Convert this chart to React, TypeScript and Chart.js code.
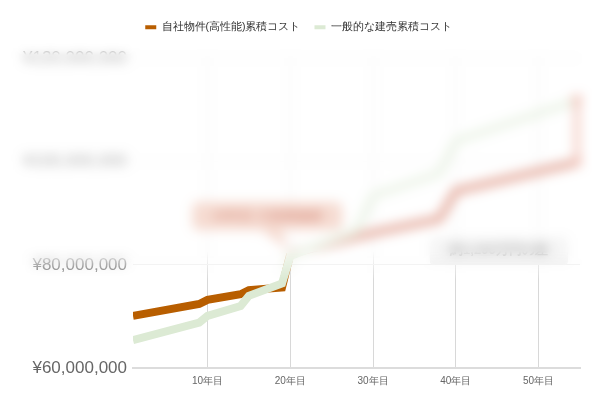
import { useEffect, useRef } from "react";
import { Chart, registerables } from "chart.js";
import type { Plugin } from "chart.js";

Chart.register(...registerables);

// 自社物件(高性能) — years and cumulative cost (yen)
const ownYears = [1, 9, 10, 14, 15, 19, 20, 30, 38, 40, 55];
const ownCost = [
  70_100_000, 72_400_000, 73_200_000, 74_300_000, 75_100_000, 75_600_000,
  82_100_000, 86_200_000, 88_900_000, 94_300_000, 100_000_000,
];

// 一般的な建売
const tractYears = [1, 9, 10, 14, 15, 19, 20, 28, 30, 38, 40, 55];
const tractCost = [
  65_400_000, 68_800_000, 70_100_000, 72_000_000, 74_000_000, 76_400_000,
  81_700_000, 86_600_000, 93_400_000, 97_700_000, 104_000_000, 112_000_000,
];

const xTicks = [10, 20, 30, 40, 50];
const yTicks = [60_000_000, 80_000_000, 100_000_000, 120_000_000];

const ownLabel = "自社物件(高性能)累積コスト";
const tractLabel = "一般的な建売累積コスト";
const calloutText = "20年目 大規模修繕";
const gapText = "約1,200万円の差";

const BROWN = "#B85E00";
const BROWN_LATER = "rgb(208,108,84)";
const GREEN = "#DCEAD4";

// extra room between the legend and the plot
const legendGap: Plugin = {
  id: "legendGap",
  beforeInit(chart) {
    const legend: any = (chart as any).legend;
    if (!legend) return;
    const fit = legend.fit;
    legend.fit = function () {
      fit.call(this);
      this.height += 16;
    };
  },
};

const annotationPlugin: Plugin = {
  id: "annotations",
  afterDatasetsDraw(chart) {
    const { ctx, scales } = chart;
    const px = (v: number) => scales.x.getPixelForValue(v);
    const py = (v: number) => scales.y.getPixelForValue(v);
    ctx.save();

    // callout pointing at the year-20 jump
    const i20 = ownYears.indexOf(20);
    const tipX = px(20);
    const tipY = py(ownCost[i20]);
    const cx = tipX - 23;
    const cy = tipY - 38;
    const w = 150;
    const h = 28;
    ctx.fillStyle = "rgb(238,190,172)";
    ctx.beginPath();
    ctx.moveTo(cx - 6, cy + h / 2);
    ctx.lineTo(cx + 14, cy + h / 2);
    ctx.lineTo(tipX - 2, tipY - 4);
    ctx.closePath();
    ctx.fill();
    ctx.beginPath();
    ctx.roundRect(cx - w / 2, cy - h / 2, w, h, 6);
    ctx.fill();
    ctx.fillStyle = "rgb(196,84,56)";
    ctx.font = "bold 13px sans-serif";
    ctx.textAlign = "center";
    ctx.textBaseline = "middle";
    ctx.fillText(calloutText, cx, cy);

    // gap label
    const gx = px(45.2);
    const gy = py(82_700_000);
    ctx.fillStyle = "rgb(236,236,236)";
    ctx.beginPath();
    ctx.roundRect(gx - 69, gy - 14, 138, 28, 4);
    ctx.fill();
    ctx.fillStyle = "rgb(120,120,120)";
    ctx.fillText(gapText, gx, gy);

    // difference bracket at the last year
    const lx = px(ownYears[ownYears.length - 1]) - 3;
    const y1 = py(ownCost[ownCost.length - 1]);
    const y2 = py(tractCost[tractCost.length - 1]);
    ctx.strokeStyle = "rgb(228,140,120)";
    ctx.fillStyle = "rgb(228,140,120)";
    ctx.lineWidth = 5;
    ctx.beginPath();
    ctx.moveTo(lx, y1);
    ctx.lineTo(lx, y2);
    ctx.stroke();
    for (const yy of [y1, y2]) {
      ctx.beginPath();
      ctx.arc(lx, yy, 5, 0, Math.PI * 2);
      ctx.fill();
    }
    ctx.restore();
  },
};

// the upper part of the chart is blurred and washed out
const blurPlugin: Plugin = {
  id: "blurTop",
  afterDraw(chart) {
    const { canvas, ctx, chartArea, scales } = chart;
    const dpr = chart.currentDevicePixelRatio;
    const w = canvas.width;
    const h = canvas.height;
    const top = (chartArea.top - 18) * dpr;
    const bottom = (scales.y.getPixelForValue(80_000_000) + 15) * dpr;

    const src = document.createElement("canvas");
    src.width = w;
    src.height = h;
    const s = src.getContext("2d")!;
    s.fillStyle = "#fff";
    s.fillRect(0, 0, w, h);
    s.drawImage(canvas, 0, 0);

    const out = document.createElement("canvas");
    out.width = w;
    out.height = h;
    const o = out.getContext("2d")!;
    o.fillStyle = "#fff";
    o.fillRect(0, 0, w, h);
    o.filter = `blur(${6 * dpr}px)`;
    o.drawImage(src, 0, 0);
    o.filter = "none";
    o.fillStyle = "rgba(255,255,255,0.45)";
    o.fillRect(0, 0, w, h);
    o.globalCompositeOperation = "destination-in";
    const g = o.createLinearGradient(0, top, 0, bottom);
    g.addColorStop(0, "rgba(0,0,0,0)");
    g.addColorStop(0.06, "rgba(0,0,0,1)");
    g.addColorStop(0.88, "rgba(0,0,0,1)");
    g.addColorStop(1, "rgba(0,0,0,0)");
    o.fillStyle = g;
    o.fillRect(0, 0, w, h);

    ctx.save();
    ctx.setTransform(1, 0, 0, 1, 0, 0);
    ctx.drawImage(out, 0, 0);
    ctx.restore();
  },
};

export default function App() {
  const ref = useRef<HTMLCanvasElement>(null);

  useEffect(() => {
    if (!ref.current) return;
    const chart = new Chart(ref.current, {
      type: "line",
      plugins: [legendGap, annotationPlugin, blurPlugin],
      data: {
        datasets: [
          {
            label: ownLabel,
            data: ownYears.map((x, i) => ({ x, y: ownCost[i] })),
            borderColor: BROWN,
            backgroundColor: BROWN,
            borderWidth: 8,
            pointRadius: 0,
            tension: 0,
            order: 1,
            segment: {
              borderColor: (c: any) => (c.p0.parsed.x >= 20 ? BROWN_LATER : undefined),
            },
          },
          {
            label: tractLabel,
            data: tractYears.map((x, i) => ({ x, y: tractCost[i] })),
            borderColor: GREEN,
            backgroundColor: GREEN,
            borderWidth: 8,
            pointRadius: 0,
            tension: 0,
            order: 0,
          },
        ],
      },
      options: {
        animation: false,
        responsive: true,
        maintainAspectRatio: false,
        layout: { padding: { left: 9, right: 12, top: 0, bottom: 2 } },
        plugins: {
          tooltip: { enabled: false },
          legend: {
            position: "top",
            labels: {
              boxWidth: 11,
              boxHeight: 4,
              padding: 14,
              color: "#333",
              font: { size: 10.5 },
              sort: (a, b) => (a.datasetIndex ?? 0) - (b.datasetIndex ?? 0),
              generateLabels: (c) =>
                Chart.defaults.plugins.legend.labels
                  .generateLabels(c)
                  .map((l) => ({ ...l, lineWidth: 0, fillStyle: l.strokeStyle as string })),
            },
          },
        },
        scales: {
          x: {
            type: "linear",
            min: 1,
            max: 55,
            afterBuildTicks: (scale) => {
              scale.ticks = xTicks.map((value) => ({ value }));
            },
            grid: { color: "#d8d8d8", lineWidth: 1, drawTicks: false },
            border: { color: "#dcdcdc", width: 2 },
            ticks: {
              color: "#666",
              padding: 7,
              font: { size: 10 },
              maxRotation: 0,
              callback: (v) => `${v}年目`,
            },
          },
          y: {
            min: yTicks[0],
            max: yTicks[yTicks.length - 1],
            afterBuildTicks: (scale) => {
              scale.ticks = yTicks.map((value) => ({ value }));
            },
            grid: { color: "#e8e8e8", drawTicks: false },
            border: { display: false },
            ticks: {
              color: "#666",
              padding: 6,
              font: { size: 17 },
              callback: (v) => `¥${Number(v).toLocaleString("en-US")}`,
            },
          },
        },
      },
    });
    return () => chart.destroy();
  }, []);

  return (
    <div style={{ width: 584, height: 388, position: "relative" }}>
      <canvas ref={ref} />
    </div>
  );
}
